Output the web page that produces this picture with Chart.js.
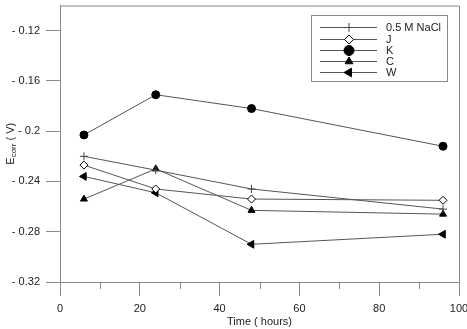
<!DOCTYPE html>
<html>
<head>
<meta charset="utf-8">
<script src="https://cdn.jsdelivr.net/npm/chart.js@4/dist/chart.umd.min.js"></script>
<style>
html,body{margin:0;padding:0;background:#fff}
#wrap{width:467px;height:329px;position:relative}
</style>
</head>
<body>
<div id="wrap"><canvas id="grafico"></canvas></div>
<script>
// data
const horas=[6,24,48,96]
const nacl=[-0.220,-0.231,-0.246,-0.262]
const serieJ=[-0.227,-0.246,-0.254,-0.255]
const serieK=[-0.203,-0.171,-0.182,-0.212]
const serieC=[-0.254,-0.230,-0.263,-0.266]
const serieW=[-0.236,-0.249,-0.290,-0.282]
const nomes=['0.5 M NaCl','J','K','C','W']
const yTicks=[-0.32,-0.28,-0.24,-0.2,-0.16,-0.12]
const xMinor=[10,30,50,70,90]

const fonte='"Liberation Sans", Arial, sans-serif'
const corEixo='#8a8a8a'

function pontos(arr){
return horas.map((h,i)=>({x:h,y:arr[i]}))
}

const estilos=[
{pointStyle:'cross',radius:4,bg:'#000',bc:'#444',bw:1,rot:0},
{pointStyle:'rectRot',radius:4,bg:'#fff',bc:'#000',bw:1,rot:0},
{pointStyle:'circle',radius:4,bg:'#000',bc:'#000',bw:1,rot:0},
{pointStyle:'triangle',radius:4,bg:'#000',bc:'#000',bw:1,rot:0},
{pointStyle:'triangle',radius:4.5,bg:'#000',bc:'#000',bw:1,rot:-90}
]

const series=[nacl,serieJ,serieK,serieC,serieW]

let datasets=series.map((s,i)=>({
label:nomes[i],
data:pontos(s),
showLine:true,
borderColor:'#555',
borderWidth:1,
pointStyle:estilos[i].pointStyle,
pointRadius:estilos[i].radius,
pointRotation:estilos[i].rot,
pointBackgroundColor:estilos[i].bg,
pointBorderColor:estilos[i].bc,
pointBorderWidth:estilos[i].bw,
tension:0
}))

// frame, minor ticks, titles and legend box
const extras={
id:'extras',
afterDraw(chart){
let ctx=chart.ctx
let a=chart.chartArea
let xs=chart.scales.x
ctx.save()
ctx.strokeStyle=corEixo
ctx.lineWidth=1
ctx.beginPath()
ctx.moveTo(a.left,a.top+0.5)
ctx.lineTo(a.right+0.5,a.top+0.5)
ctx.lineTo(a.right+0.5,a.bottom)
ctx.stroke()
xMinor.forEach(v=>{
let px=Math.round(xs.getPixelForValue(v))+0.5
ctx.beginPath()
ctx.moveTo(px,a.bottom)
ctx.lineTo(px,a.bottom+7)
ctx.stroke()
})

ctx.fillStyle='#222'
ctx.font='11px '+fonte
ctx.textAlign='center'
ctx.textBaseline='middle'
ctx.fillText('Time ( hours)',(a.left+a.right)/2,322)

// y title with subscript
ctx.translate(11,(a.top+a.bottom)/2)
ctx.rotate(-Math.PI/2)
let t1='E',t2='corr',t3=' ( V)'
ctx.font='11px '+fonte
let w1=ctx.measureText(t1).width
let w3=ctx.measureText(t3).width
ctx.font='8px '+fonte
let w2=ctx.measureText(t2).width
let x0=-(w1+w2+w3)/2
ctx.textAlign='left'
ctx.font='11px '+fonte
ctx.fillText(t1,x0,0)
ctx.font='8px '+fonte
ctx.fillText(t2,x0+w1,3)
ctx.font='11px '+fonte
ctx.fillText(t3,x0+w1+w2,0)
ctx.restore()

// legend
ctx.save()
ctx.strokeStyle=corEixo
ctx.lineWidth=1
ctx.strokeRect(311.5,15.5,136,66)
let linhas=[27,39,50,61,72]
nomes.forEach((n,i)=>{
let y=linhas[i]+0.5
ctx.strokeStyle='#555'
ctx.beginPath()
ctx.moveTo(320,y)
ctx.lineTo(377,y)
ctx.stroke()
let e=estilos[i]
let r=i==2?5:e.radius+0.5
ctx.fillStyle=e.bg
ctx.strokeStyle=e.bc
ctx.lineWidth=e.bw
if(Chart.helpers&&Chart.helpers.drawPoint){
Chart.helpers.drawPoint(ctx,{pointStyle:e.pointStyle,radius:r,rotation:e.rot,borderWidth:e.bw},349,y)
}
ctx.fillStyle='#222'
ctx.font='11px '+fonte
ctx.textAlign='left'
ctx.textBaseline='middle'
ctx.fillText(n,386,y)
})
ctx.restore()
}
}

let grafico=new Chart(document.getElementById('grafico'),{
type:'scatter',
data:{datasets:datasets},
options:{
responsive:true,
maintainAspectRatio:false,
animation:false,
layout:{padding:{top:1,right:8,left:0,bottom:0}},
plugins:{
legend:{display:false},
tooltip:{enabled:false}
},
scales:{
x:{
type:'linear',
min:0,
max:100,
ticks:{
stepSize:20,
color:'#222',
font:{family:fonte,size:11},
padding:6,
maxRotation:0
},
grid:{
drawOnChartArea:false,
tickLength:14,
color:corEixo
},
border:{color:corEixo},
afterFit(s){
s.height=47
s.paddingLeft=0
s.paddingRight=0
}
},
y:{
min:-0.32,
max:-0.10,
afterBuildTicks(s){
s.ticks=yTicks.map(v=>({value:v}))
},
ticks:{
color:'#222',
font:{family:fonte,size:11},
padding:6,
callback:v=>'- '+Math.abs(v).toFixed(2).replace(/0$/,'')
},
grid:{
drawOnChartArea:false,
tickLength:14,
color:corEixo
},
border:{color:corEixo},
afterFit(s){
s.width=60
s.paddingTop=0
s.paddingBottom=0
}
}
}
},
plugins:[extras]
})
</script>
</body>
</html>
